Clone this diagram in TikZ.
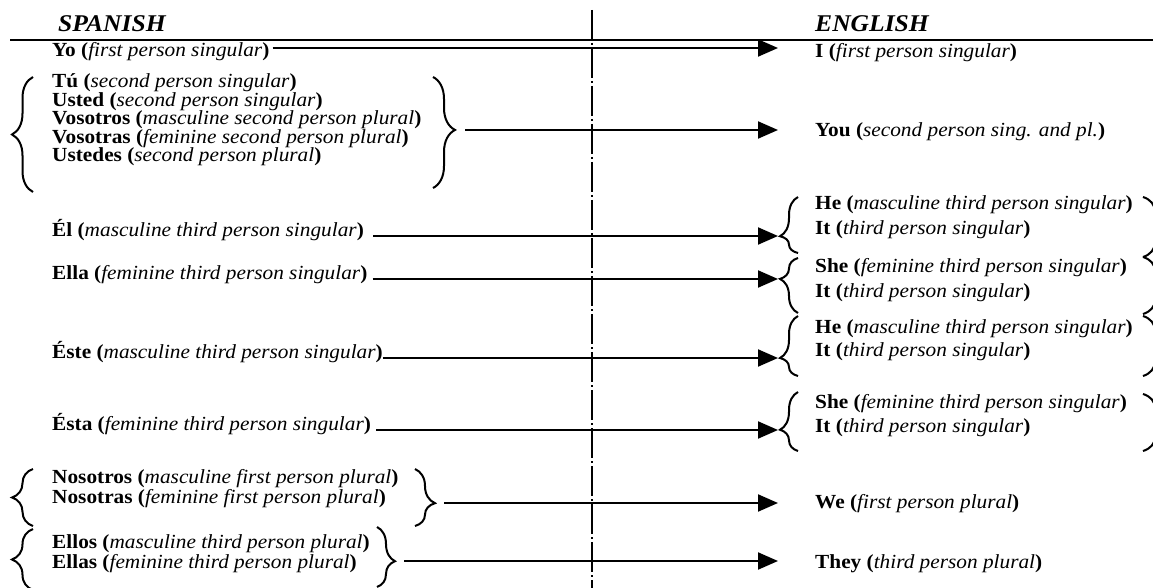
\documentclass[tikz,border=0pt]{standalone}
\usepackage{fontspec}
\setmainfont{Liberation Serif}[FakeStretch=1.065]
\usepackage{tikz}
\usetikzlibrary{arrows.meta, decorations.pathreplacing, backgrounds}

\newcommand{\txtfont}{\fontsize{20}{22}\selectfont}
\newcommand{\headfont}{\fontsize{24}{26}\selectfont\bfseries\itshape}
\newcommand{\pron}[2]{\textbf{#1 (}\textit{#2}\textbf{)}}

\begin{document}
\begin{tikzpicture}[x=1pt, y=-1pt,
    background rectangle/.style={fill=white}, show background rectangle, inner frame sep=0pt,
    brc/.style={decorate, decoration={brace, amplitude=#1}, line width=2pt}]
            \useasboundingbox (0,0) rectangle (1153,588);

            \begin{scope}[every node/.style={inner sep=0pt, anchor=base west, font=\txtfont,
                                             text height=13pt, text depth=4pt}]
                \node[font=\headfont, text height=17pt] (sp) at (58,32) {SPANISH};
                \node[font=\headfont, text height=17pt] (en) at (815,32) {ENGLISH};

                \node (yo) at (52,57) {\pron{Yo}{first person singular}};
                \node (tu) at (52,88) {\pron{Tú}{second person singular}};
                \node (usted) at (52,106.5) {\pron{Usted}{second person singular}};
                \node (vosotros) at (52,125) {\pron{Vosotros}{masculine second person plural}};
                \node (vosotras) at (52,143.5) {\pron{Vosotras}{feminine second person plural}};
                \node (ustedes) at (52,162) {\pron{Ustedes}{second person plural}};
                \node (el) at (52,236) {\pron{Él}{masculine third person singular}};
                \node (ella) at (52,279) {\pron{Ella}{feminine third person singular}};
                \node (este) at (52,358) {\pron{Éste}{masculine third person singular}};
                \node (esta) at (52,430) {\pron{Ésta}{feminine third person singular}};
                \node (nosotros) at (52,483) {\pron{Nosotros}{masculine first person plural}};
                \node (nosotras) at (52,503) {\pron{Nosotras}{feminine first person plural}};
                \node (ellos) at (52,548) {\pron{Ellos}{masculine third person plural}};
                \node (ellas) at (52,568) {\pron{Ellas}{feminine third person plural}};

                \node (eI) at (815,58) {\pron{I}{first person singular}};
                \node (eYou) at (815,137) {\pron{You}{second person sing. and pl.}};
                \node (eHeA) at (815,210) {\pron{He}{masculine third person singular}};
                \node (eItA) at (815,234) {\pron{It}{third person singular}};
                \node (eSheB) at (815,272) {\pron{She}{feminine third person singular}};
                \node (eItB) at (815,297) {\pron{It}{third person singular}};
                \node (eHeC) at (815,333) {\pron{He}{masculine third person singular}};
                \node (eItC) at (815,356) {\pron{It}{third person singular}};
                \node (eSheD) at (815,408) {\pron{She}{feminine third person singular}};
                \node (eItD) at (815,432) {\pron{It}{third person singular}};
                \node (eWe) at (815,508) {\pron{We}{first person plural}};
                \node (eThey) at (815,568) {\pron{They}{third person plural}};
            \end{scope}

            \draw[line width=2.2pt] (10,40) -- (1153,40);
            \draw[line width=2.5pt, dash pattern=on 30pt off 3pt on 2pt off 3pt] (592,10) -- (592,588);

            \draw[brc=21pt] (33,192) -- (33,77);
            \draw[brc=22pt, decoration={aspect=0.477}] (433,77) -- (433,188);
            \draw[brc=21pt] (33,526) -- (33,469);
            \draw[brc=20pt, decoration={aspect=0.6}] (415,469) -- (415,526);
            \draw[brc=21pt] (33,590) -- (33,529);
            \draw[brc=18pt, decoration={aspect=0.57}] (377,527) -- (377,587);

            \draw[brc=18pt, decoration={aspect=0.30}] (798,253) -- (798,197);
            \draw[brc=18pt, decoration={aspect=0.62}] (798,313) -- (798,258);
            \draw[brc=18pt, decoration={aspect=0.30}] (798,376) -- (798,316);
            \draw[brc=18pt, decoration={aspect=0.36}] (798,451) -- (798,392);
            \draw[brc=24pt] (1143,197) -- (1143,257);
            \draw[brc=24pt] (1143,257) -- (1143,314);
            \draw[brc=24pt] (1143,316) -- (1143,376);
            \draw[brc=24pt] (1143,394) -- (1143,451);

            \coordinate (yoS) at ([xshift=3pt, yshift=9pt]yo.base east);
            \coordinate (tuTip) at (465,130);
            \coordinate (nosTip) at (444,503);
            \coordinate (ellosTip) at (404,561);
            \coordinate (heAtip) at (780,236);
            \coordinate (sheBtip) at (780,279);
            \coordinate (heCtip) at (780,358);
            \coordinate (sheDtip) at (780,430);

            \begin{scope}[>={Triangle[length=20pt, width=17pt]},
                          every edge/.style={draw=black, line width=2pt}]
                \path[->] (yoS) edge[shorten >=37pt] (yoS -| eI.west);
                \path[->] (tuTip) edge[shorten >=37pt] (tuTip -| eYou.west);
                \path[->] ([xshift=9pt]el.base east) edge[shorten >=2pt] (heAtip);
                \path[->] ([xshift=5pt]ella.base east) edge[shorten >=2pt] (sheBtip);
                \path[->] (este.base east) edge[shorten >=2pt] (heCtip);
                \path[->] ([xshift=5pt]esta.base east) edge[shorten >=2pt] (sheDtip);
                \path[->] (nosTip) edge[shorten >=37pt] (nosTip -| eWe.west);
                \path[->] (ellosTip) edge[shorten >=37pt] (ellosTip -| eThey.west);
            \end{scope}

            \end{tikzpicture}
\end{document}
